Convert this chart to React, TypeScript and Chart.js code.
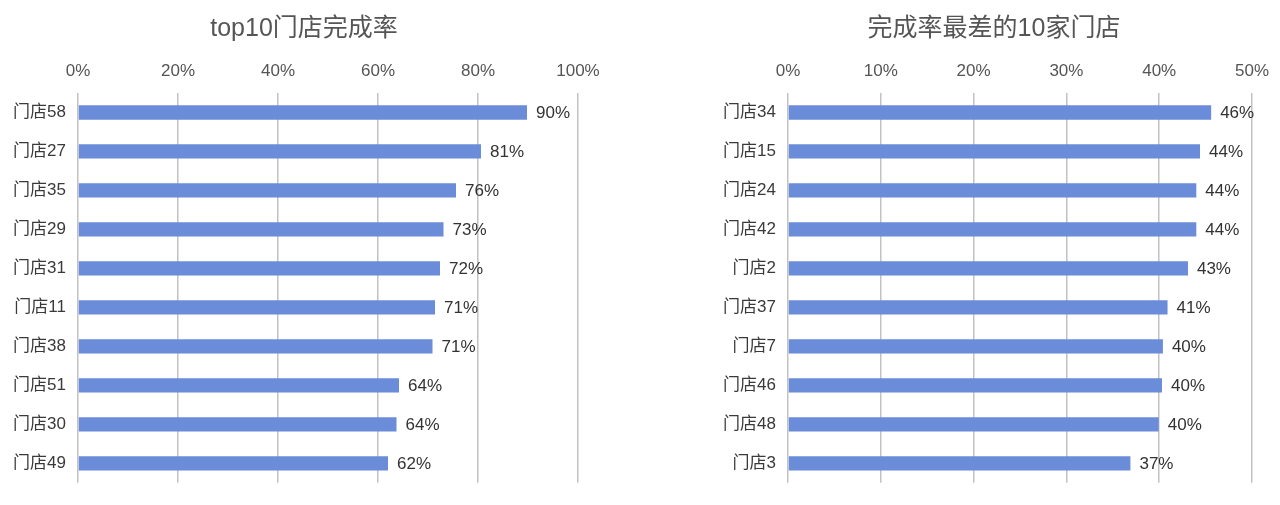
import React, { useEffect, useRef } from "react";
import { Chart, registerables } from "chart.js";

Chart.register(...registerables);

const topTitle = "top10门店完成率";
const topStores = ["门店58", "门店27", "门店35", "门店29", "门店31", "门店11", "门店38", "门店51", "门店30", "门店49"];
const topRates = [0.898, 0.806, 0.756, 0.731, 0.724, 0.714, 0.709, 0.642, 0.637, 0.62];
const topAxisMax = 1;
const topAxisStep = 0.2;

const worstTitle = "完成率最差的10家门店";
const worstStores = ["门店34", "门店15", "门店24", "门店42", "门店2", "门店37", "门店7", "门店46", "门店48", "门店3"];
const worstRates = [0.456, 0.444, 0.44, 0.44, 0.431, 0.409, 0.404, 0.403, 0.3995, 0.369];
const worstAxisMax = 0.5;
const worstAxisStep = 0.1;

const FONT = '"Liberation Sans", "Noto Sans CJK SC", Arial, sans-serif';
const BAR_COLOR = "#6b8cd9";

const pct = (v: number) => Math.round(v * 100) + "%";

type Cfg = {
  title: string;
  titleX: number;
  labels: string[];
  values: number[];
  max: number;
  step: number;
  axisWidth: number;
  padRight: number;
  padBottom: number;
};

function BarPanel({ cfg, left }: { cfg: Cfg; left: number }) {
  const ref = useRef<HTMLCanvasElement | null>(null);
  useEffect(() => {
    if (!ref.current) return;
    const titlePlugin = {
      id: "customTitle",
      afterDraw(chart: any) {
        const ctx = chart.ctx;
        ctx.save();
        ctx.font = `25px ${FONT}`;
        ctx.fillStyle = "#555555";
        ctx.textAlign = "center";
        ctx.textBaseline = "middle";
        ctx.fillText(cfg.title, cfg.titleX, 29);
        ctx.restore();
      },
    };
    const valueLabels = {
      id: "valueLabels",
      afterDatasetsDraw(chart: any) {
        const ctx = chart.ctx;
        const meta = chart.getDatasetMeta(0);
        ctx.save();
        ctx.font = `17px ${FONT}`;
        ctx.fillStyle = "#333333";
        ctx.textAlign = "left";
        ctx.textBaseline = "middle";
        meta.data.forEach((el: any, i: number) => {
          ctx.fillText(pct(cfg.values[i]), el.x + 9, el.y + 1);
        });
        ctx.restore();
      },
    };
    const chart = new Chart(ref.current, {
      type: "bar",
      data: {
        labels: cfg.labels,
        datasets: [
          {
            data: cfg.values,
            backgroundColor: BAR_COLOR,
            borderWidth: 0,
            categoryPercentage: 1,
            barPercentage: 0.367,
          },
        ],
      },
      options: {
        indexAxis: "y",
        animation: false,
        responsive: false,
        maintainAspectRatio: false,
        layout: { padding: { left: 0, right: cfg.padRight, top: 0, bottom: cfg.padBottom } },
        plugins: {
          legend: { display: false },
          title: { display: false },
          tooltip: { enabled: false },
        },
        scales: {
          x: {
            position: "top",
            min: 0,
            max: cfg.max,
            afterFit: (s: any) => {
              s.height = 93;
            },
            ticks: {
              stepSize: cfg.step,
              padding: 11,
              color: "#555555",
              font: { family: FONT, size: 17 },
              callback: (v: any) => pct(Number(v)),
            },
            grid: { color: "#c2c2c2", lineWidth: 1.5, drawTicks: false },
            border: { display: false },
          },
          y: {
            afterFit: (s: any) => {
              s.width = cfg.axisWidth;
            },
            ticks: {
              padding: 12,
              color: "#3a3a3a",
              font: { family: FONT, size: 17 },
            },
            grid: { display: false, drawTicks: false },
            border: { display: false },
          },
        },
      },
      plugins: [titlePlugin, valueLabels],
    } as any);
    return () => chart.destroy();
  }, [cfg]);
  return (
    <div style={{ position: "absolute", left, top: 0, width: 640, height: 505 }}>
      <canvas ref={ref} width={640} height={505} style={{ width: 640, height: 505 }} />
    </div>
  );
}

const leftCfg: Cfg = {
  title: topTitle,
  titleX: 304,
  labels: topStores,
  values: topRates,
  max: topAxisMax,
  step: topAxisStep,
  axisWidth: 78,
  padRight: 62,
  padBottom: 22,
};

const rightCfg: Cfg = {
  title: worstTitle,
  titleX: 354,
  labels: worstStores,
  values: worstRates,
  max: worstAxisMax,
  step: worstAxisStep,
  axisWidth: 148,
  padRight: 27,
  padBottom: 18,
};

export default function App() {
  return (
    <div style={{ position: "absolute", left: 0, top: 0, width: 1280, height: 505, background: "#fff" }}>
      <BarPanel cfg={leftCfg} left={0} />
      <BarPanel cfg={rightCfg} left={640} />
    </div>
  );
}
